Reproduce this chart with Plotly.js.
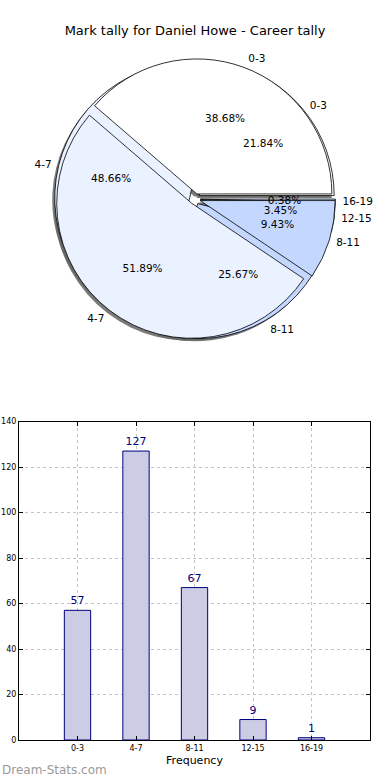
<!DOCTYPE html>
<html>
<head>
<meta charset="utf-8">
<script src="https://cdn.plot.ly/plotly-3.0.1.min.js"></script>
<style>html,body{margin:0;padding:0;background:#fff;}#chart{width:390px;height:780px;}</style>
</head>
<body>
<div id="chart"></div>
<script>
var categories = ["0-3", "4-7", "8-11", "12-15", "16-19"];
var careerCounts = [57, 127, 67, 9, 1];
var innerCategories = ["0-3", "4-7", "8-11"];
var innerCounts = [41, 55, 10];
var titleText = "Mark tally for Daniel Howe - Career tally";

var pieColors = ["#FFFFFF", "#EBF2FF", "#C4D8FF", "#C4D8FF", "#C4D8FF"];
var FONT = "DejaVu Sans, sans-serif";

function px2fx(p){ return (p - 19) / 351; }
function py2fy(p){ return (740 - p) / 740; }
var cx = 195, cy = 199, R = 135, pull = 0.04;

function domFor(r, p, dx, dy){
  var h = r * (1 + p);
  return {x:[px2fx(cx-h+dx), px2fx(cx+h+dx)], y:[py2fy(cy+h+dy), py2fy(cy-h+dy)]};
}

function sum(a){ return a.reduce(function(s,v){return s+v;},0); }
// first slice starts at 3 o'clock and runs counterclockwise
function startRot(values){ return 90 - 360 * values[0] / sum(values); }

function pieBase(labels, values, r, extra){
  var p = pull * R / r;
  var t = {type:"pie", labels:labels, values:values, sort:false, direction:"counterclockwise",
    rotation:startRot(values), domain:domFor(r, p, 0, 0), pull:labels.map(function(){return p;}),
    hoverinfo:"skip", showlegend:false};
  for (var k in extra) t[k] = extra[k];
  return t;
}
function fill(n, c){ var a=[]; for(var i=0;i<n;i++) a.push(c); return a; }
var CLEAR = "rgba(0,0,0,0)", SHADOW = "rgba(100,100,100,0.85)";

var txtFont = {family:FONT, size:10.5, color:"#000"};
var textR = 0.63 * R, labelR = 1.03 * R, sh = 2.5;
var shadowDom = domFor(R, pull, -sh, sh);

// percentage labels sit at ~0.6 of the radius: big slices via a wide ring, thin slices via a narrow ring
function bigPos(values){ var t = sum(values); return values.map(function(v){ return v / t >= 0.2 ? "inside" : "none"; }); }
function smallPos(values){ var t = sum(values); return values.map(function(v){ return v / t >= 0.2 ? "none" : "inside"; }); }

function pctTraces(labels, values){
  var n = labels.length;
  return [
    pieBase(labels, values, R, {hole:0.2, textinfo:"percent", textposition:bigPos(values), insidetextorientation:"horizontal",
      texttemplate:"%{percent:.2%}", textfont:txtFont, marker:{colors:fill(n, CLEAR), line:{width:0}}}),
    pieBase(labels, values, textR, {hole:0.9, textinfo:"percent", textposition:smallPos(values), insidetextorientation:"horizontal",
      texttemplate:"%{percent:.2%}", textfont:txtFont, marker:{colors:fill(n, CLEAR), line:{width:0}}})
  ];
}

var traces = [
  pieBase(categories, careerCounts, R, {domain:shadowDom, textinfo:"none", marker:{colors:fill(5, SHADOW), line:{width:0}}}),
  pieBase(innerCategories, innerCounts, R, {domain:shadowDom, textinfo:"none", marker:{colors:fill(3, SHADOW), line:{width:0}}}),
  pieBase(categories, careerCounts, R, {textinfo:"none", marker:{colors:pieColors, line:{color:"#000", width:0.8}}}),
  pieBase(innerCategories, innerCounts, R, {textinfo:"none", marker:{colors:pieColors.slice(0,3), line:{color:"#000", width:0.8}}})
].concat(pctTraces(categories, careerCounts), pctTraces(innerCategories, innerCounts), [
  pieBase(categories, careerCounts, labelR, {textinfo:"label", textposition:"outside", textfont:txtFont,
    marker:{colors:fill(5, CLEAR), line:{width:0}}}),
  pieBase(innerCategories, innerCounts, labelR, {textinfo:"label", textposition:"outside", textfont:txtFont,
    marker:{colors:fill(3, CLEAR), line:{width:0}}}),
  {type:"bar", x:categories, y:careerCounts, width:0.45, text:careerCounts.map(String), textposition:"outside",
   textfont:{family:FONT, size:11, color:"#00007F"}, cliponaxis:false,
   marker:{color:"#CCCCE5", line:{color:"#00007F", width:1}}, hoverinfo:"skip", showlegend:false,
   xaxis:"x", yaxis:"y"}
]);

var layout = {
  width:390, height:780,
  margin:{l:19, r:20, t:0, b:40},
  paper_bgcolor:"#fff", plot_bgcolor:"#fff",
  font:{family:FONT, color:"#000"},
  title:{text:titleText, font:{family:FONT, size:13, color:"#000"}, x:0.5, xanchor:"center", y:1-30/780, yanchor:"middle", yref:"container"},
  uniformtext:{minsize:10.5, mode:"show"},
  xaxis:{domain:[0,1], type:"category", range:[-1,5], showline:true, mirror:"ticks", linecolor:"#000", linewidth:1,
    ticks:"inside", ticklen:4, tickcolor:"#000", showgrid:true, gridcolor:"#c4c4c4", griddash:"dot", gridwidth:1,
    tickfont:{family:FONT, size:8, color:"#000"}, title:{text:"Frequency", font:{family:FONT, size:11, color:"#000"}, standoff:4},
    fixedrange:true, zeroline:false},
  yaxis:{domain:[0, py2fy(421.5)], range:[0,140], dtick:20, showline:true, mirror:"ticks", linecolor:"#000", linewidth:1,
    ticks:"inside", ticklen:4, tickcolor:"#000", showgrid:true, gridcolor:"#c4c4c4", griddash:"dot", gridwidth:1,
    tickfont:{family:FONT, size:8, color:"#000"}, zeroline:false, fixedrange:true},
  annotations:[{text:"Dream-Stats.com", xref:"paper", yref:"paper", x:px2fx(0), y:py2fy(770), xanchor:"left", yanchor:"middle",
    showarrow:false, font:{family:FONT, size:12, color:"#9a9a9a"}}]
};

Plotly.newPlot("chart", traces, layout, {displayModeBar:false, staticPlot:true});
</script>
</body>
</html>
